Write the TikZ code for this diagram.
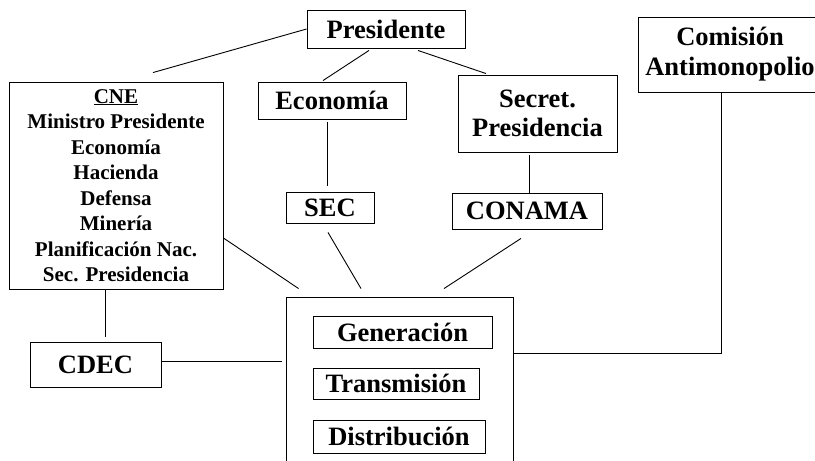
\documentclass[tikz,border=0pt]{standalone}
\usepackage{fontspec}
\setmainfont{Liberation Serif}
\usetikzlibrary{calc}
\tikzset{
  box/.style={draw, line width=0.9pt, inner sep=0pt, align=center,
    font=\fontsize{26.5}{29}\selectfont\bfseries},
  link/.style={line width=0.9pt}
}
\begin{document}
\begin{tikzpicture}[x=1pt,y=-1pt]
\useasboundingbox (0,0) rectangle (815,461);
\node[box, minimum width=158, minimum height=38] (pres) at (386,29) {Presidente};
\node[box, minimum width=148, minimum height=37] (econ) at (332,100.5) {Economía};
\node[box, minimum width=159, minimum height=77] (secr) at (537.5,113.5) {Secret.\\Presidencia};
\node[box, minimum width=88, minimum height=31] (sec) at (330,207.5) {SEC};
\node[box, minimum width=150, minimum height=36] (conama) at (527,211) {CONAMA};
\node[box, minimum width=214, minimum height=207, font=\fontsize{21}{25.5}\selectfont\bfseries] (cne) at (116,185.5)
  {\underline{CNE}\\Ministro Presidente\\Economía\\Hacienda\\Defensa\\Minería\\Planificación Nac.\\Sec. Presidencia};
\node[box, minimum width=131, minimum height=45] (cdec) at (95.5,364.5) {CDEC};
\node[box, minimum width=184, minimum height=75, font=\fontsize{26.5}{30}\selectfont\bfseries] (com) at (730,54.5) {Comisión\\Antimonopolio};
\node[box, minimum width=227, minimum height=178] (big) at (399.5,386) {};
\node[box, minimum width=179, minimum height=32] (gen) at (402.5,332) {Generación};
\node[box, minimum width=166, minimum height=31] (trans) at (396,383.5) {Transmisión};
\node[box, minimum width=172, minimum height=33] (dist) at (399,436.5) {Distribución};

\draw[link] (pres.west) -- ($(cne.north)+(37,-9)$);
\draw[link] ($(pres.south)+(-17,2)$) -- ($(econ.north)+(-9,-1)$);
\draw[link] ($(pres.south)+(32,2)$) -- ($(secr.north)+(-51.5,-1)$);
\draw[link] ($(econ.south)+(-5,3)$) -- ($(sec.north)+(-3,-6)$);
\draw[link] ($(secr.south)+(-8.5,3)$) -- ($(conama.north)+(2,0)$);
\draw[link] ($(cne.east)+(0,52.5)$) -- ($(big.north west)+(13,-8)$);
\draw[link] ($(sec.south)+(-2,9)$) -- ($(big.north)+(-38.5,-8)$);
\draw[link] ($(conama.south)+(-6,9)$) -- ($(big.north)+(44.5,-8)$);
\draw[link] ($(cne.south)+(-11,0)$) -- ($(cdec.north)+(9.5,-5)$);
\draw[link] ($(cdec.east)+(0,-3.5)$) -- ($(big.west)+(-4,-25)$);
\draw[link] ($(big.east)+(0,-33)$) -| ($(com.south)+(-9,0)$);
\end{tikzpicture}
\end{document}
